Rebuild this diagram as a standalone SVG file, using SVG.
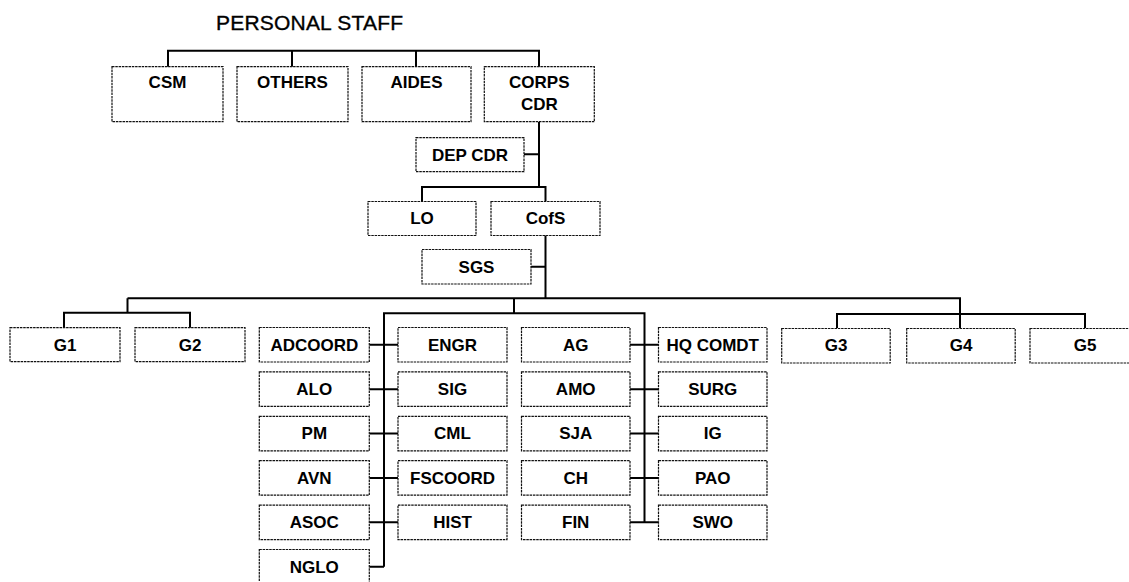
<svg xmlns="http://www.w3.org/2000/svg" width="1129" height="582" viewBox="0 0 1129 582">
<style>
.b rect{fill:#fff;stroke:#111;stroke-width:1.2;stroke-dasharray:2.5 0.8}
.b text{font-family:"Liberation Sans",Arial,sans-serif;font-weight:bold;font-size:17px;fill:#000;text-anchor:middle}
.c{fill:none;stroke:#000;stroke-width:2}
.t{font-family:"Liberation Sans",Arial,sans-serif;font-size:21px;fill:#000;stroke:#000;stroke-width:0.35}
</style>
<rect width="1129" height="582" fill="#fff"/>
<text class="t" x="216" y="29.5" textLength="187">PERSONAL STAFF</text>
<g id="connectors" class="c">
<path d="M168 67V50.7H539V67M292 50.7V67M416 50.7V67"/>
<path d="M539 121.7V187M524 154.3H539M422 201.5V187H545.5V201.5"/>
<path d="M545.5 235V298.3M531 266.7H545.5"/>
<path d="M127.5 298.3H960V328M127.5 298.3V312.7M64 328V312.7H190V328M837 328V314H1085V328"/>
<path d="M514 298.3V313.3M384 566.75V313.3H644.5V522.35"/>
<path d="M369.3 344.75H398M369.3 389.15H398M369.3 433.55H398M369.3 477.95H398M369.3 522.35H398M369.3 566.75H384"/>
<path d="M630 344.75H658.5M630 389.15H658.5M630 433.55H658.5M630 477.95H658.5M630 522.35H658.5"/>
</g>
<g id="csm" class="b"><rect x="112" y="66.7" width="111" height="55"/><text x="167.5" y="88">CSM</text></g>
<g id="others" class="b"><rect x="237" y="66.7" width="111" height="55"/><text x="292.5" y="88">OTHERS</text></g>
<g id="aides" class="b"><rect x="362" y="66.7" width="109" height="55"/><text x="416.5" y="88">AIDES</text></g>
<g id="corps" class="b"><rect x="484.3" y="66.7" width="110" height="55"/><text x="539.3" y="88.3">CORPS</text><text x="539.3" y="110">CDR</text></g>
<g id="depcdr" class="b"><rect x="416" y="137.7" width="108" height="34"/><text x="470" y="160.5">DEP CDR</text></g>
<g id="lo" class="b"><rect x="368" y="201.5" width="108" height="34"/><text x="422" y="224.3">LO</text></g>
<g id="cofs" class="b"><rect x="491" y="201.5" width="109" height="34"/><text x="545.5" y="224.3">CofS</text></g>
<g id="sgs" class="b"><rect x="422" y="249.5" width="109" height="34.5"/><text x="476.5" y="272.5">SGS</text></g>
<g id="g1" class="b"><rect x="10" y="327.7" width="110" height="34"/><text x="65" y="350.5">G1</text></g>
<g id="g2" class="b"><rect x="135" y="327.7" width="110" height="34"/><text x="190" y="350.5">G2</text></g>
<g id="g3" class="b"><rect x="781.7" y="328.5" width="108.5" height="34.5"/><text x="836" y="351">G3</text></g>
<g id="g4" class="b"><rect x="906.7" y="328.5" width="108.5" height="34.5"/><text x="961" y="351">G4</text></g>
<g id="g5" class="b"><rect x="1030" y="328.5" width="110" height="34.5"/><text x="1085" y="351">G5</text></g>
<g id="adcoord" class="b"><rect x="259.3" y="327.5" width="110" height="34.5"/><text x="314.3" y="350.5">ADCOORD</text></g>
<g id="alo" class="b"><rect x="259.3" y="371.9" width="110" height="34.5"/><text x="314.3" y="394.9">ALO</text></g>
<g id="pm" class="b"><rect x="259.3" y="416.3" width="110" height="34.5"/><text x="314.3" y="439.3">PM</text></g>
<g id="avn" class="b"><rect x="259.3" y="460.7" width="110" height="34.5"/><text x="314.3" y="483.7">AVN</text></g>
<g id="asoc" class="b"><rect x="259.3" y="505.1" width="110" height="34.5"/><text x="314.3" y="528.1">ASOC</text></g>
<g id="nglo" class="b"><rect x="259.3" y="549.5" width="110" height="34.5"/><text x="314.3" y="572.5">NGLO</text></g>
<g id="engr" class="b"><rect x="398" y="327.5" width="109" height="34.5"/><text x="452.5" y="350.5">ENGR</text></g>
<g id="sig" class="b"><rect x="398" y="371.9" width="109" height="34.5"/><text x="452.5" y="394.9">SIG</text></g>
<g id="cml" class="b"><rect x="398" y="416.3" width="109" height="34.5"/><text x="452.5" y="439.3">CML</text></g>
<g id="fscoord" class="b"><rect x="398" y="460.7" width="109" height="34.5"/><text x="452.5" y="483.7">FSCOORD</text></g>
<g id="hist" class="b"><rect x="398" y="505.1" width="109" height="34.5"/><text x="452.5" y="528.1">HIST</text></g>
<g id="ag" class="b"><rect x="521.5" y="327.5" width="108.5" height="34.5"/><text x="575.7" y="350.5">AG</text></g>
<g id="amo" class="b"><rect x="521.5" y="371.9" width="108.5" height="34.5"/><text x="575.7" y="394.9">AMO</text></g>
<g id="sja" class="b"><rect x="521.5" y="416.3" width="108.5" height="34.5"/><text x="575.7" y="439.3">SJA</text></g>
<g id="ch" class="b"><rect x="521.5" y="460.7" width="108.5" height="34.5"/><text x="575.7" y="483.7">CH</text></g>
<g id="fin" class="b"><rect x="521.5" y="505.1" width="108.5" height="34.5"/><text x="575.7" y="528.1">FIN</text></g>
<g id="hqcomdt" class="b"><rect x="658.5" y="327.5" width="108.5" height="34.5"/><text x="712.7" y="350.5">HQ COMDT</text></g>
<g id="surg" class="b"><rect x="658.5" y="371.9" width="108.5" height="34.5"/><text x="712.7" y="394.9">SURG</text></g>
<g id="ig" class="b"><rect x="658.5" y="416.3" width="108.5" height="34.5"/><text x="712.7" y="439.3">IG</text></g>
<g id="pao" class="b"><rect x="658.5" y="460.7" width="108.5" height="34.5"/><text x="712.7" y="483.7">PAO</text></g>
<g id="swo" class="b"><rect x="658.5" y="505.1" width="108.5" height="34.5"/><text x="712.7" y="528.1">SWO</text></g>
</svg>
